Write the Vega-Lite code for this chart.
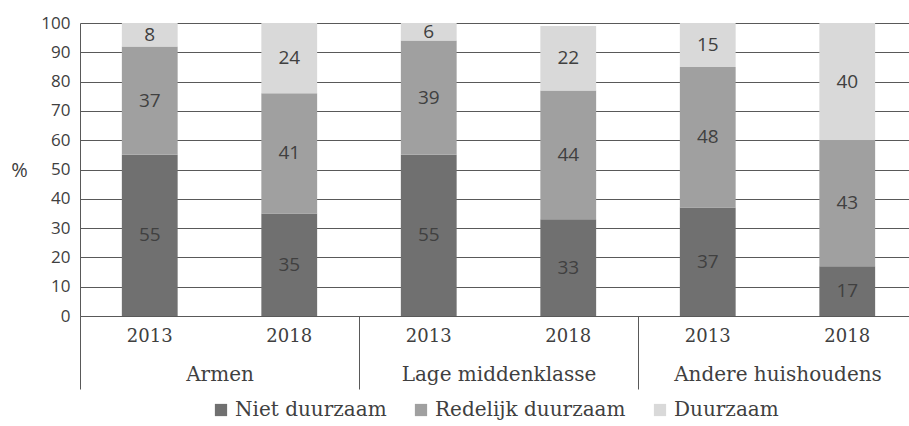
{
  "$schema": "https://vega.github.io/schema/vega-lite/v6.json",
  "width": 829,
  "height": 293,
  "autosize": {"type": "none"},
  "padding": {"left": 80, "top": 23, "right": 0, "bottom": 110},
  "config": {
    "view": {"stroke": null},
    "legend": {"layout": {"bottom": {"anchor": "middle"}}},
    "axisY": {
      "grid": true, "gridColor": "#595959", "gridWidth": 1,
      "ticks": false, "domain": true, "domainColor": "#595959",
      "labelFont": "Open Sans", "labelFontSize": 17, "labelColor": "#404040",
      "labelPadding": 10, "labelOverlap": false, "labelFlush": false,
      "titleAngle": 0, "titleFont": "Open Sans", "titleFontSize": 20,
      "titleFontWeight": "normal", "titleColor": "#404040",
      "titleX": -61, "titleY": 147, "titleAlign": "center", "titleBaseline": "middle"
    }
  },
  "datasets": {
    "bars": [
      {"group": "Armen", "year": "2013", "key": "Armen|2013", "cat": "Niet duurzaam", "ord": 1, "value": 55},
      {"group": "Armen", "year": "2013", "key": "Armen|2013", "cat": "Redelijk duurzaam", "ord": 2, "value": 37},
      {"group": "Armen", "year": "2013", "key": "Armen|2013", "cat": "Duurzaam", "ord": 3, "value": 8},
      {"group": "Armen", "year": "2018", "key": "Armen|2018", "cat": "Niet duurzaam", "ord": 1, "value": 35},
      {"group": "Armen", "year": "2018", "key": "Armen|2018", "cat": "Redelijk duurzaam", "ord": 2, "value": 41},
      {"group": "Armen", "year": "2018", "key": "Armen|2018", "cat": "Duurzaam", "ord": 3, "value": 24},
      {"group": "Lage middenklasse", "year": "2013", "key": "Lage middenklasse|2013", "cat": "Niet duurzaam", "ord": 1, "value": 55},
      {"group": "Lage middenklasse", "year": "2013", "key": "Lage middenklasse|2013", "cat": "Redelijk duurzaam", "ord": 2, "value": 39},
      {"group": "Lage middenklasse", "year": "2013", "key": "Lage middenklasse|2013", "cat": "Duurzaam", "ord": 3, "value": 6},
      {"group": "Lage middenklasse", "year": "2018", "key": "Lage middenklasse|2018", "cat": "Niet duurzaam", "ord": 1, "value": 33},
      {"group": "Lage middenklasse", "year": "2018", "key": "Lage middenklasse|2018", "cat": "Redelijk duurzaam", "ord": 2, "value": 44},
      {"group": "Lage middenklasse", "year": "2018", "key": "Lage middenklasse|2018", "cat": "Duurzaam", "ord": 3, "value": 22},
      {"group": "Andere huishoudens", "year": "2013", "key": "Andere huishoudens|2013", "cat": "Niet duurzaam", "ord": 1, "value": 37},
      {"group": "Andere huishoudens", "year": "2013", "key": "Andere huishoudens|2013", "cat": "Redelijk duurzaam", "ord": 2, "value": 48},
      {"group": "Andere huishoudens", "year": "2013", "key": "Andere huishoudens|2013", "cat": "Duurzaam", "ord": 3, "value": 15},
      {"group": "Andere huishoudens", "year": "2018", "key": "Andere huishoudens|2018", "cat": "Niet duurzaam", "ord": 1, "value": 17},
      {"group": "Andere huishoudens", "year": "2018", "key": "Andere huishoudens|2018", "cat": "Redelijk duurzaam", "ord": 2, "value": 43},
      {"group": "Andere huishoudens", "year": "2018", "key": "Andere huishoudens|2018", "cat": "Duurzaam", "ord": 3, "value": 40}
    ],
    "groups": [
      {"group": "Armen"},
      {"group": "Lage middenklasse"},
      {"group": "Andere huishoudens"}
    ]
  },
  "layer": [
    {
      "data": {"name": "bars"},
      "encoding": {
        "x": {
          "field": "key", "type": "nominal", "sort": null,
          "scale": {
            "domain": ["Armen|2013", "Armen|2018", "Lage middenklasse|2013", "Lage middenklasse|2018", "Andere huishoudens|2013", "Andere huishoudens|2018"],
            "range": [0, 837], "paddingInner": 0.6, "paddingOuter": 0.3
          },
          "axis": {
            "orient": "bottom", "title": null, "ticks": false, "domain": true,
            "domainColor": "#595959", "domainWidth": 1,
            "labelExpr": "split(datum.value, '|')[1]",
            "labelFont": "DejaVu Serif", "labelFontSize": 18, "labelColor": "#404040",
            "labelPadding": 11, "labelAngle": 0
          }
        }
      },
      "layer": [
        {
          "mark": {"type": "bar"},
          "encoding": {
            "y": {
              "field": "value", "type": "quantitative", "stack": "zero",
              "scale": {"domain": [0, 100], "nice": false},
              "axis": {"values": [0, 10, 20, 30, 40, 50, 60, 70, 80, 90, 100], "title": "%"}
            },
            "color": {
              "field": "cat", "type": "nominal",
              "scale": {"domain": ["Niet duurzaam", "Redelijk duurzaam", "Duurzaam"], "range": ["#707070", "#a0a0a0", "#d9d9d9"]},
              "legend": {
                "orient": "bottom", "direction": "horizontal", "title": null,
                "symbolType": "square", "symbolSize": 150, "symbolStrokeWidth": 0,
                "labelFont": "DejaVu Serif", "labelFontSize": 20, "labelColor": "#404040",
                "labelLimit": 400,
                "columnPadding": 24, "labelOffset": 4, "offset": 10
              }
            },
            "order": {"field": "ord", "type": "quantitative"}
          }
        },
        {
          "transform": [
            {"stack": "value", "groupby": ["key"], "sort": [{"field": "ord", "order": "ascending"}], "as": ["y0", "y1"]},
            {"calculate": "(datum.y0 + datum.y1) / 2", "as": "ymid"}
          ],
          "mark": {"type": "text", "font": "Open Sans", "fontSize": 19, "color": "#404040", "baseline": "middle", "align": "center"},
          "encoding": {
            "y": {
              "field": "ymid", "type": "quantitative",
              "axis": {"values": [0, 10, 20, 30, 40, 50, 60, 70, 80, 90, 100], "title": "%"}
            },
            "text": {"field": "value", "type": "quantitative"}
          }
        }
      ]
    },
    {
      "data": {"name": "groups"},
      "mark": {"type": "point", "opacity": 0},
      "encoding": {
        "x": {
          "field": "group", "type": "nominal", "sort": null,
          "scale": {"domain": ["Armen", "Lage middenklasse", "Andere huishoudens"], "range": [0, 837], "paddingInner": 0, "paddingOuter": 0},
          "axis": {
            "orient": "bottom", "title": null, "domain": false,
            "ticks": true, "tickBand": "extent", "tickSize": 73, "tickColor": "#595959", "tickWidth": 1,
            "labelFont": "DejaVu Serif", "labelFontSize": 20, "labelColor": "#404040",
            "labelPadding": -25, "labelAngle": 0, "labelLimit": 400
          }
        }
      }
    }
  ],
  "resolve": {"scale": {"x": "independent"}, "axis": {"x": "independent"}}
}
